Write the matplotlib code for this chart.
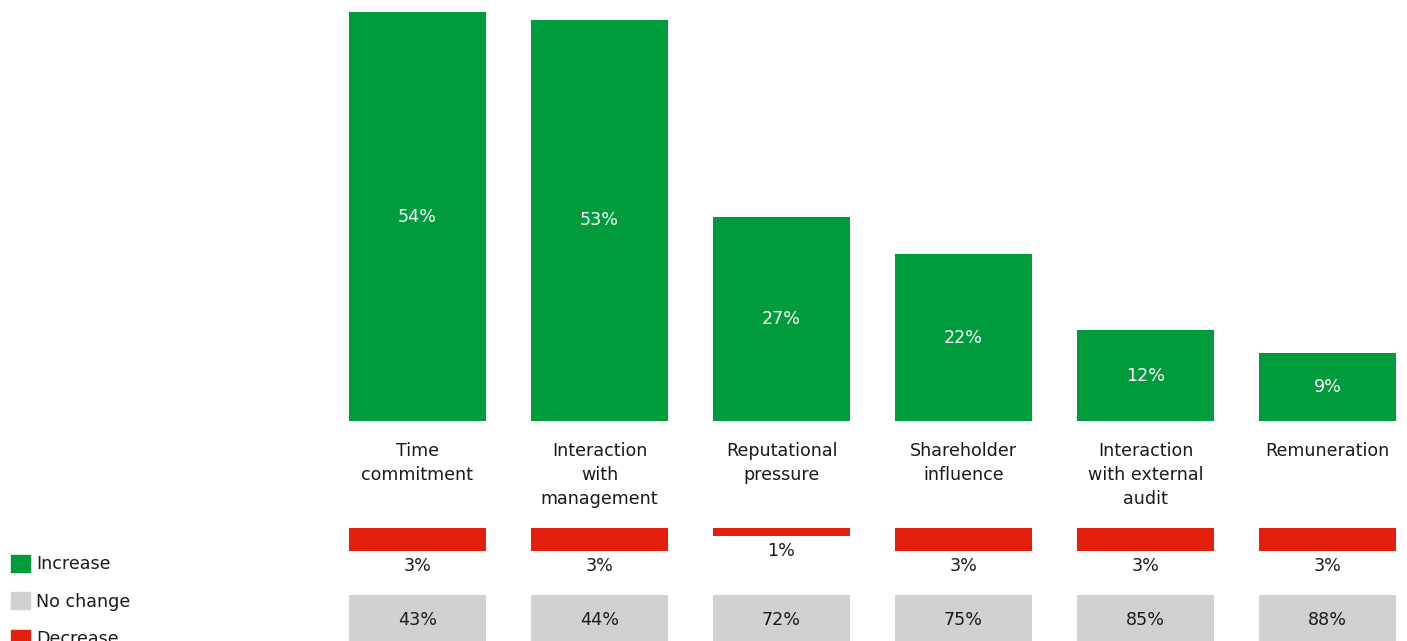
import matplotlib
matplotlib.use("Agg")
import matplotlib.pyplot as plt
from matplotlib.patches import Patch
import numpy as np

categories = ["Time\ncommitment", "Interaction\nwith\nmanagement", "Reputational\npressure",
              "Shareholder\ninfluence", "Interaction\nwith external\naudit", "Remuneration"]
increase = [54, 53, 27, 22, 12, 9]
decrease = [3, 3, 1, 3, 3, 3]
no_change = [43, 44, 72, 75, 85, 88]

GREEN = "#009c3b"
RED = "#e41f0d"
GRAY = "#d0d1d0"
TXT = "#1a1a1a"

W, H = 1407, 641
fig = plt.figure(figsize=(W / 100, H / 100), dpi=100)
FS = 12.6
plt.rcParams["font.family"] = ["DejaVu Sans"]

PXPCT = 7.57  # pixels per percent
x = np.arange(len(categories))
step = 182.0
c0 = 417.5
xlim = (-c0 / step, (W - c0) / step)
bw = 137 / step

def make_ax(top_px, bot_px):
    ax = fig.add_axes([0, (H - bot_px) / H, 1, (bot_px - top_px) / H])
    ax.set_xlim(*xlim)
    ax.axis("off")
    return ax

# Increase
ax1 = make_ax(0, 421)
ax1.set_ylim(0, 421 / PXPCT)
ax1.bar(x, increase, width=bw, color=GREEN)
for xi, v in zip(x, increase):
    ax1.text(xi, v / 2, f"{v}%", ha="center", va="center", color="white", fontsize=FS)
for xi, lab in zip(x, categories):
    ax1.annotate(lab, (xi, 0), xytext=(0, -21), textcoords="offset pixels",
                 ha="center", va="top", fontsize=FS, color=TXT, linespacing=1.43,
                 annotation_clip=False)

# Decrease
ax2 = make_ax(528, H)
ax2.set_ylim((H - 528) / PXPCT, 0)
ax2.bar(x, decrease, width=bw, color=RED)
for xi, v in zip(x, decrease):
    ax2.annotate(f"{v}%", (xi, v), xytext=(0, -15), textcoords="offset pixels",
                 ha="center", va="center", fontsize=FS, color=TXT)

# No change
ax3 = make_ax(595, H)
ax3.set_ylim((H - 595) / PXPCT, 0)
ax3.bar(x, no_change, width=bw, color=GRAY)
for xi, v in zip(x, no_change):
    ax3.text(xi, 0.457, f"{v}%", transform=ax3.get_xaxis_transform(),
             ha="center", va="center", fontsize=FS, color=TXT)

# Legend
fs_px = FS * 100 / 72
handles = [Patch(color=GREEN, label="Increase"), Patch(color=GRAY, label="No change"),
           Patch(color=RED, label="Decrease")]
fig.legend(handles=handles, loc="upper left", bbox_to_anchor=(11 / W, 1 - 555 / H),
           frameon=False, fontsize=FS, handlelength=19 / fs_px, handleheight=19 / fs_px,
           handletextpad=6 / fs_px, labelspacing=19 / fs_px, borderpad=0, borderaxespad=0,
           labelcolor=TXT)

fig.savefig("out.png", dpi=100)
